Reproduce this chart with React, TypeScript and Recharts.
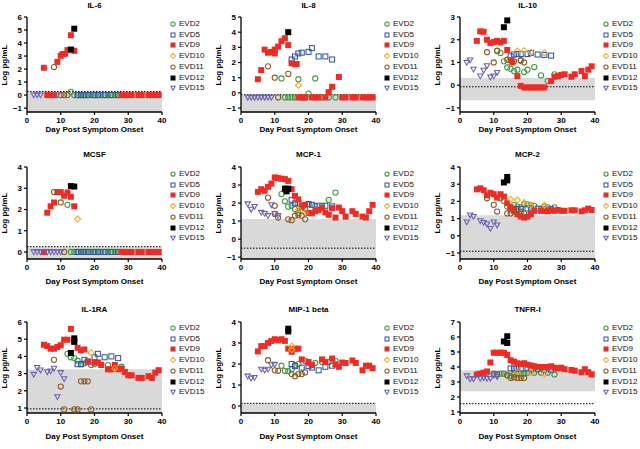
import React from 'react';
import { ScatterChart, Scatter, XAxis, YAxis, ReferenceArea, ReferenceLine } from 'recharts';

type P = [number, number];

const SERIES = ['EVD2', 'EVD5', 'EVD9', 'EVD10', 'EVD11', 'EVD12', 'EVD15'];
const X_TICKS = [0, 10, 20, 30, 40];

// ---------- IL-6 ----------
const IL6_TICKS = [-1, 0, 1, 2, 3, 4, 5, 6];
const IL6_EVD2: P[] = [[13, 0.25], [14, 0], [15, 0], [16, 0], [17, 0], [18, 0], [19, 0], [20, 0], [21, 0], [22, 0], [23, 0], [24, 0], [25, 0], [26, 0], [27, 0], [28, 0]];
const IL6_EVD5: P[] = [[15, 0], [16, 0], [17, 0], [18, 0], [20, 0], [21, 0], [23, 0], [25, 0], [27, 0]];
const IL6_EVD9: P[] = [[5, 2.1], [6, 0], [7, 0], [8, 0], [9, 2.55], [10, 3.02], [10.5, 3.15], [11.3, 3.17], [12, 3.45], [13, 4.6], [14, 3.4], [28, 0], [29, 0], [30, 0], [31, 0], [33, 0], [34, 0], [36, 0], [37, 0], [38, 0], [39, 0]];
const IL6_EVD10: P[] = [];
const IL6_EVD11: P[] = [[8, 2.15], [10, 0], [11, 0], [12, 0]];
const IL6_EVD12: P[] = [[13, 3.5], [14, 5.1]];
const IL6_EVD15: P[] = [[2, 0], [3, 0], [4, 0], [9, 0]];

// ---------- IL-8 ----------
const IL8_TICKS = [-1, 0, 1, 2, 3, 4, 5];
const IL8_EVD2: P[] = [[12, 0.95], [13, -0.3], [14, -0.3], [15, -0.3], [16, -0.3], [17, 0.9], [18, -0.3], [19, -0.3], [20, -0.05], [22, 0.95], [24, -0.3], [26, -0.3], [28, -0.3]];
const IL8_EVD5: P[] = [[15, 2.2], [16, 2.4], [17, 2.6], [18, 2.65], [20, 2.7], [21, 2.95], [23, 2.4], [25, 2.4], [27, 2.2]];
const IL8_EVD9: P[] = [[5, 0.9], [6, 1.5], [7, 2.85], [8, 2.65], [9, 2.7], [10, 2.85], [10, 2.6], [11, 3.05], [12, 3.4], [13, 3.6], [14, 3.15], [15, 1.95], [16, 1.9], [16.5, 1.9], [17, -0.3], [18, -0.3], [19, -0.3], [21, -0.3], [22, -0.3], [23, -0.3], [25, -0.3], [26, 0.05], [27, 0.4], [29, 1.05], [30, -0.3], [31, -0.3], [33, -0.3], [34, -0.3], [36, -0.3], [37, -0.3], [38, -0.3], [39, -0.3]];
const IL8_EVD10: P[] = [[17, 0.5]];
const IL8_EVD11: P[] = [[8, 1.75], [10, 1.0], [11, -0.3], [14, 1.25]];
const IL8_EVD12: P[] = [[14, 4.0]];
const IL8_EVD15: P[] = [[2, -0.3], [3, -0.3], [4, -0.3], [5, -0.3], [6, -0.3], [7, -0.3], [8, -0.3], [9, -0.3]];

// ---------- IL-10 ----------
const IL10_TICKS = [-1, 0, 1, 2, 3];
const IL10_EVD2: P[] = [[11, 1.5], [12, 1.42], [13, 1.05], [14, 0.78], [15, 0.72], [16, 0.62], [17, 0.68], [18, 1.07], [19, 0.58], [20, 0.68], [22, 0.8], [24, 0.43], [26, 0.18], [28, 0.48]];
const IL10_EVD5: P[] = [[15, 1.27], [16, 1.35], [17, 1.37], [18, 1.37], [20, 1.37], [21, 1.42], [23, 1.35], [25, 1.33], [27, 1.3]];
const IL10_EVD9: P[] = [[5, 1.95], [6, 2.37], [7, 2.35], [8, 2.0], [9, 1.85], [10, 1.9], [11, 1.95], [12, 1.88], [13, 1.95], [14, 1.55], [15, 1.1], [15.5, 1.0], [17, 0.4], [18, -0.03], [19, -0.1], [20, -0.1], [21, -0.1], [22, -0.1], [23, -0.1], [24, -0.1], [25, -0.1], [27, 0.18], [28, 0.37], [29, 0.4], [30, 0.45], [31, 0.48], [33, 0.37], [34, 0.48], [36, 0.62], [37, 0.4], [38, 0.68], [39, 0.83]];
const IL10_EVD10: P[] = [[17, 1.5], [19, 1.52], [21, 1.45], [25, 1.43]];
const IL10_EVD11: P[] = [[8, 1.45], [10, 1.0], [11, 1.52], [14, 1.12], [16, 1.05], [18, 1.1], [19, 1.0]];
const IL10_EVD12: P[] = [[13, 2.55], [14, 2.85]];
const IL10_EVD15: P[] = [[2, 1.0], [3, 1.1], [4, 0.7], [6, 0.4], [7, 0.65], [8, 0.85], [9, 0.35], [10, 0.4], [11, 0.55]];

// ---------- MCSF ----------
const MCSF_TICKS = [0, 1, 2, 3, 4];
const MCSF_EVD2: P[] = [[12, 2.22], [13, 0], [14, 0], [15, 0], [16, 0], [17, 0], [18, 0], [19, 0], [20, 0], [21, 0], [22, 0], [23, 0], [24, 0], [25, 0], [26, 0], [27, 0], [28, 0]];
const MCSF_EVD5: P[] = [[15, 0], [16, 0], [17, 0], [18, 0], [20, 0], [21, 0], [23, 0], [25, 0], [27, 0]];
const MCSF_EVD9: P[] = [[5, 0], [6, 1.85], [7, 2.15], [8, 2.33], [9, 2.82], [10, 2.82], [11, 2.65], [12, 2.8], [13, 2.6], [14, 2.15], [28, 0], [29, 0], [30, 0], [31, 0], [33, 0], [34, 0], [36, 0], [37, 0], [38, 0], [39, 0]];
const MCSF_EVD10: P[] = [[15, 1.55]];
const MCSF_EVD11: P[] = [[8, 2.82], [10, 2.33], [11, 0]];
const MCSF_EVD12: P[] = [[13, 3.1], [14, 3.08]];
const MCSF_EVD15: P[] = [[2, 0], [3, 0], [4, 0], [6, 0], [7, 0], [8, 0], [9, 0], [10, 0]];

// ---------- MCP-1 ----------
const MCP1_TICKS = [-1, 0, 1, 2, 3, 4];
const MCP1_EVD2: P[] = [[12, 2.5], [13, 2.1], [14, 1.8], [15, 1.85], [16, 1.67], [17, 1.45], [19, 1.67], [20, 1.95], [22, 1.85], [24, 1.85], [26, 2.18], [28, 2.58]];
const MCP1_EVD5: P[] = [[15, 2.18], [16, 1.98], [17, 1.98], [18, 1.85], [20, 1.95], [21, 1.9], [23, 1.85], [25, 1.85], [27, 1.82]];
const MCP1_EVD9: P[] = [[5, 2.62], [6, 2.77], [7, 2.68], [8, 2.9], [9, 3.08], [10, 3.42], [10.5, 3.4], [11, 3.38], [12, 3.35], [13, 3.33], [14, 3.23], [15, 2.77], [16, 2.4], [17, 2.2], [18, 1.77], [19, 1.9], [20, 1.45], [21, 1.43], [22, 1.55], [23, 1.62], [24, 1.72], [25, 1.48], [26, 1.35], [27, 1.72], [28, 1.2], [29, 1.75], [30, 1.55], [31, 1.25], [33, 1.55], [34, 1.4], [36, 1.25], [37, 1.2], [38, 1.55], [39, 1.9]];
const MCP1_EVD10: P[] = [[17, 1.65], [19, 1.45]];
const MCP1_EVD11: P[] = [[8, 2.3], [10, 1.85], [10, 1.4], [11, 1.2], [14, 1.1], [15, 1.05], [16, 1.3], [17, 1.33], [18, 1.3], [19, 1.1]];
const MCP1_EVD12: P[] = [[13, 2.8], [14, 2.8], [13.5, 2.65]];
const MCP1_EVD15: P[] = [[2, 1.95], [3, 1.65], [4, 1.8], [6, 1.48], [7, 1.42], [8, 1.3], [9, 1.9], [10, 1.4], [11, 1.3]];

// ---------- MCP-2 ----------
const MCP2_TICKS = [-1, 0, 1, 2, 3, 4];
const MCP2_EVD2: P[] = [[12, 2.18], [13, 2.02], [14, 1.7], [15, 1.65], [16, 1.78], [17, 1.7], [18, 1.65], [19, 1.83], [20, 1.83], [21, 1.78], [22, 1.74], [24, 1.58], [25, 1.7], [26, 1.65], [28, 1.65]];
const MCP2_EVD5: P[] = [[15, 1.55], [16, 1.5], [17, 1.55], [18, 1.55], [20, 1.58], [21, 1.58], [23, 1.58], [25, 1.55], [27, 1.55]];
const MCP2_EVD9: P[] = [[5, 2.7], [6, 2.76], [7, 2.65], [8, 2.35], [9, 2.5], [10, 2.42], [11, 2.22], [12, 2.42], [13, 2.28], [14, 1.9], [15, 1.65], [16, 1.45], [17, 1.25], [18, 1.12], [19, 1.06], [20, 1.12], [21, 1.25], [22, 1.45], [24, 1.45], [25, 1.45], [26, 1.42], [27, 1.48], [28, 1.45], [29, 1.5], [30, 1.45], [31, 1.45], [33, 1.48], [34, 1.48], [36, 1.42], [37, 1.48], [38, 1.58], [39, 1.5]];
const MCP2_EVD10: P[] = [[15, 2.12], [17, 2.08], [19, 1.93], [21, 1.78], [25, 1.78]];
const MCP2_EVD11: P[] = [[8, 2.18], [10, 1.8], [11, 1.41], [14, 1.3], [15, 1.3], [16, 1.4], [18, 1.4], [19, 1.3]];
const MCP2_EVD12: P[] = [[13, 3.1], [14, 3.22], [14, 3.42]];
const MCP2_EVD15: P[] = [[2, 0.8], [3, 1.2], [4, 1.12], [6, 0.87], [7, 0.77], [8, 0.68], [9, 0.42], [10, 0.8], [11, 0.62]];

// ---------- IL-1RA ----------
const IL1RA_TICKS = [1, 2, 3, 4, 5, 6];
const IL1RA_EVD2: P[] = [[12, 4.15], [13, 3.95], [14, 3.9], [15, 3.75], [16, 3.55], [17, 3.6], [19, 3.5], [20, 3.55], [22, 3.5], [24, 3.5], [26, 3.3], [28, 3.4]];
const IL1RA_EVD5: P[] = [[15, 3.55], [16, 3.55], [17, 3.8], [18, 3.7], [20, 3.95], [21, 4.15], [23, 3.95], [25, 4.0], [27, 3.9]];
const IL1RA_EVD9: P[] = [[5, 4.68], [6, 4.6], [7, 4.45], [8, 4.45], [9, 4.55], [10, 4.65], [11, 4.97], [12, 4.97], [13, 5.6], [14, 4.85], [15, 4.5], [16, 4.35], [17, 4.4], [18, 3.7], [20, 3.65], [21, 3.65], [22, 3.5], [24, 3.25], [25, 3.25], [26, 3.5], [27, 3.25], [28, 3.3], [29, 3.1], [30, 2.9], [31, 2.9], [33, 2.75], [34, 2.75], [36, 2.85], [37, 2.75], [38, 3.05], [39, 3.2]];
const IL1RA_EVD10: P[] = [[19, 4.2], [26, 3.3]];
const IL1RA_EVD11: P[] = [[8, 3.8], [10, 2.25], [11, 0.92], [14, 0.92], [15, 0.92], [16, 2.55], [17, 2.55], [18, 2.55], [19, 0.92]];
const IL1RA_EVD12: P[] = [[13, 4.2], [14, 4.85], [14, 5.05]];
const IL1RA_EVD15: P[] = [[2, 2.95], [3, 3.35], [4, 3.2], [6, 3.1], [7, 3.15], [8, 3.3], [9, 1.65], [10, 3.05], [11, 2.7]];

// ---------- MIP-1 beta ----------
const MIP_TICKS = [0, 1, 2, 3, 4];
const MIP_EVD2: P[] = [[12, 1.92], [13, 1.68], [14, 1.66], [15, 1.75], [16, 1.95], [17, 2.0], [19, 2.15], [20, 2.05], [22, 2.05], [24, 2.1], [26, 2.1], [28, 2.15]];
const MIP_EVD5: P[] = [[15, 2.0], [16, 1.9], [18, 1.83], [20, 1.9], [21, 1.83], [23, 1.7], [25, 1.87], [27, 1.92]];
const MIP_EVD9: P[] = [[5, 2.6], [6, 2.85], [7, 2.85], [8, 3.0], [9, 3.1], [10, 3.18], [11, 3.13], [12, 3.18], [13, 3.1], [14, 2.73], [15, 2.58], [16, 2.73], [17, 2.73], [18, 2.22], [20, 2.1], [21, 1.95], [24, 2.22], [25, 2.1], [27, 2.26], [28, 1.98], [29, 1.87], [30, 2.07], [31, 2.05], [33, 2.17], [34, 2.05], [36, 1.7], [37, 1.92], [38, 1.92], [39, 1.8]];
const MIP_EVD10: P[] = [[15, 2.85], [15, 2.68]];
const MIP_EVD11: P[] = [[8, 2.18], [10, 1.7], [11, 1.68], [15, 1.52], [16, 1.42], [17, 1.52], [18, 1.52], [19, 1.6]];
const MIP_EVD12: P[] = [[14, 3.68], [14, 3.55]];
const MIP_EVD15: P[] = [[2, 1.42], [3, 1.32], [4, 1.35], [6, 1.75], [7, 1.7], [8, 1.75], [9, 1.95], [10, 1.98]];

// ---------- TNFR-I ----------
const TNFR_TICKS = [1, 2, 3, 4, 5, 6, 7];
const TNFR_EVD2: P[] = [[8, 3.62], [11, 3.5], [12, 3.55], [13, 3.55], [14, 3.45], [15, 3.4], [16, 3.5], [17, 3.55], [18, 3.5], [19, 3.55], [20, 3.62], [22, 3.62], [24, 3.62], [26, 3.62], [28, 3.5]];
const TNFR_EVD5: P[] = [[15, 3.9], [16, 3.9], [17, 3.9], [18, 3.9], [20, 3.9], [21, 3.85], [23, 3.85], [25, 3.82], [27, 3.82]];
const TNFR_EVD9: P[] = [[5, 3.5], [6, 3.55], [7, 3.62], [8, 3.7], [9, 4.3], [10, 4.95], [11, 4.95], [12, 4.95], [13, 4.95], [14, 4.8], [15, 4.45], [16, 4.35], [17, 4.25], [18, 4.2], [19, 4.25], [20, 4.15], [21, 4.1], [22, 4.05], [23, 4.0], [24, 4.0], [25, 4.0], [26, 4.0], [27, 4.05], [28, 3.95], [29, 3.9], [30, 3.95], [31, 3.85], [33, 3.8], [34, 3.75], [36, 3.65], [37, 3.85], [38, 3.65], [39, 3.5]];
const TNFR_EVD10: P[] = [[17, 3.65], [21, 3.62], [25, 3.55]];
const TNFR_EVD11: P[] = [[10, 3.55], [11, 3.5], [14, 3.45], [15, 3.27], [16, 3.3], [17, 3.27], [18, 3.27], [19, 3.27]];
const TNFR_EVD12: P[] = [[13, 5.7], [14, 5.6], [14, 6.05]];
const TNFR_EVD15: P[] = [[2, 3.4], [3, 3.2], [4, 3.2], [6, 3.23], [7, 3.27], [8, 3.23], [9, 3.23], [10, 3.45], [11, 3.35]];

// ---------- layout ----------
const COL_X = [27, 241, 460];
const ROW_Y = [17, 167, 322];
const ROW_H = [95, 92, 91];
const PLOT_W = 135;
const TITLE_Y = [6, 155, 310];
const XLABEL_Y = [130, 282, 437];
const LEGEND_Y = [24, 174, 328];
const LEGEND_STEP = 10.7;
const FONT = '"Liberation Sans", Arial, Helvetica, sans-serif';

const COLORS: Record<string, string> = {
  EVD2: '#3d9a3d',
  EVD5: '#3356aa',
  EVD9: '#ee2b24',
  EVD10: '#f5a623',
  EVD11: '#8c5a22',
  EVD12: '#000000',
  EVD15: '#6b5fb5',
};

type PanelCfg = {
  title: string;
  col: number;
  row: number;
  domain: [number, number];
  ticks: number[];
  band: [number, number];
  lod: number;
  series: P[][];
};

const PANELS: PanelCfg[] = [
  { title: 'IL-6', col: 0, row: 0, domain: [-1.3, 6], ticks: IL6_TICKS, band: [-1.3, 0.28], lod: 0.28, series: [IL6_EVD2, IL6_EVD5, IL6_EVD9, IL6_EVD10, IL6_EVD11, IL6_EVD12, IL6_EVD15] },
  { title: 'IL-8', col: 1, row: 0, domain: [-1.26, 5], ticks: IL8_TICKS, band: [-1.26, -0.12], lod: -0.12, series: [IL8_EVD2, IL8_EVD5, IL8_EVD9, IL8_EVD10, IL8_EVD11, IL8_EVD12, IL8_EVD15] },
  { title: 'IL-10', col: 2, row: 0, domain: [-1.18, 3], ticks: IL10_TICKS, band: [-0.66, 0.32], lod: -0.07, series: [IL10_EVD2, IL10_EVD5, IL10_EVD9, IL10_EVD10, IL10_EVD11, IL10_EVD12, IL10_EVD15] },
  { title: 'MCSF', col: 0, row: 1, domain: [-0.33, 4], ticks: MCSF_TICKS, band: [-0.33, 0.25], lod: 0.25, series: [MCSF_EVD2, MCSF_EVD5, MCSF_EVD9, MCSF_EVD10, MCSF_EVD11, MCSF_EVD12, MCSF_EVD15] },
  { title: 'MCP-1', col: 1, row: 1, domain: [-1.1, 4], ticks: MCP1_TICKS, band: [-1.1, 1.12], lod: -0.5, series: [MCP1_EVD2, MCP1_EVD5, MCP1_EVD9, MCP1_EVD10, MCP1_EVD11, MCP1_EVD12, MCP1_EVD15] },
  { title: 'MCP-2', col: 2, row: 1, domain: [-1.35, 4], ticks: MCP2_TICKS, band: [-1.35, 1.2], lod: -0.9, series: [MCP2_EVD2, MCP2_EVD5, MCP2_EVD9, MCP2_EVD10, MCP2_EVD11, MCP2_EVD12, MCP2_EVD15] },
  { title: 'IL-1RA', col: 0, row: 2, domain: [0.71, 6], ticks: IL1RA_TICKS, band: [0.71, 3.25], lod: 0.95, series: [IL1RA_EVD2, IL1RA_EVD5, IL1RA_EVD9, IL1RA_EVD10, IL1RA_EVD11, IL1RA_EVD12, IL1RA_EVD15] },
  { title: 'MIP-1 beta', col: 1, row: 2, domain: [-0.33, 4], ticks: MIP_TICKS, band: [-0.33, 0.13], lod: 0.13, series: [MIP_EVD2, MIP_EVD5, MIP_EVD9, MIP_EVD10, MIP_EVD11, MIP_EVD12, MIP_EVD15] },
  { title: 'TNFR-I', col: 2, row: 2, domain: [0.93, 7], ticks: TNFR_TICKS, band: [2.38, 3.78], lod: 1.55, series: [TNFR_EVD2, TNFR_EVD5, TNFR_EVD9, TNFR_EVD10, TNFR_EVD11, TNFR_EVD12, TNFR_EVD15] },
];

function Marker({ kind, cx, cy, s }: { kind: string; cx: number; cy: number; s: number }) {
  const c = COLORS[kind];
  const h = s / 2;
  const sw = 1.05;
  if (cx == null || cy == null || isNaN(cx) || isNaN(cy)) return null;
  switch (kind) {
    case 'EVD2':
    case 'EVD11':
      return <circle cx={cx} cy={cy} r={h - 0.4} fill="none" stroke={c} strokeWidth={sw} />;
    case 'EVD5':
      return <rect x={cx - h + 0.5} y={cy - h + 0.5} width={s - 1} height={s - 1} fill="none" stroke={c} strokeWidth={sw} />;
    case 'EVD9':
    case 'EVD12':
      return <rect x={cx - h} y={cy - h} width={s} height={s} fill={c} stroke="none" />;
    case 'EVD10':
      return <polygon points={`${cx},${cy - h} ${cx + h},${cy} ${cx},${cy + h} ${cx - h},${cy}`} fill="none" stroke={c} strokeWidth={sw} />;
    case 'EVD15':
      return <polygon points={`${cx - h * 0.9},${cy - h * 0.7} ${cx + h * 0.9},${cy - h * 0.7} ${cx},${cy + h * 0.9}`} fill="none" stroke={c} strokeWidth={sw} />;
    default:
      return null;
  }
}

const fmt = (v: number) => String(v).replace('-', '\u2212');

function Panel({ cfg }: { cfg: PanelCfg }) {
  const left = COL_X[cfg.col];
  const top = ROW_Y[cfg.row];
  const plotH = ROW_H[cfg.row];
  const W = PLOT_W + 27 + 5;
  const H = plotH + 25;
  const tickStyle = { fontSize: 8, fontWeight: 700, fill: '#000', fontFamily: FONT };
  return (
    <>
      <div style={{ position: 'absolute', left: left - 27, top: top - 5 }}>
        <ScatterChart width={W} height={H} margin={{ top: 5, right: 5, bottom: 5, left: 0 }}>
          <ReferenceArea y1={cfg.band[0]} y2={cfg.band[1]} fill="#d9d9d9" fillOpacity={1} stroke="none" ifOverflow="extendDomain" />
          <ReferenceLine y={cfg.lod} stroke="#000" strokeWidth={1} strokeDasharray="1.5 1.5" />
          <XAxis type="number" dataKey="x" domain={[0, 40]} ticks={X_TICKS} interval={0} height={15}
            axisLine={{ stroke: '#000', strokeWidth: 1.3 }} tickLine={{ stroke: '#000', strokeWidth: 1.2 }}
            tickSize={3} tick={tickStyle} allowDataOverflow />
          <YAxis type="number" dataKey="y" domain={cfg.domain} ticks={cfg.ticks} interval={0} width={27}
            axisLine={{ stroke: '#000', strokeWidth: 1.3 }} tickLine={{ stroke: '#000', strokeWidth: 1.2 }}
            tickSize={3} tick={tickStyle} tickFormatter={fmt} allowDataOverflow />
          {SERIES.map((s, i) => (
            <Scatter key={s} name={s}
              data={cfg.series[i].map(([x, y]) => ({ x, y }))}
              isAnimationActive={false}
              shape={(p: any) => <Marker kind={s} cx={p.cx} cy={p.cy} s={6} />} />
          ))}
        </ScatterChart>
      </div>
      <div style={{ position: 'absolute', left: left, width: PLOT_W, top: TITLE_Y[cfg.row] - 6, textAlign: 'center', fontFamily: FONT, fontWeight: 700, fontSize: 8, lineHeight: '12px' }}>{cfg.title}</div>
      <div style={{ position: 'absolute', left: left - 20, width: PLOT_W + 40, top: XLABEL_Y[cfg.row] - 6, textAlign: 'center', fontFamily: FONT, fontWeight: 700, fontSize: 8, lineHeight: '12px' }}>Day Post Symptom Onset</div>
      <div style={{ position: 'absolute', left: left - 22 - 40, top: top + plotH / 2 - 6, width: 80, textAlign: 'center', transform: 'rotate(-90deg)', fontFamily: FONT, fontWeight: 700, fontSize: 8, lineHeight: '12px' }}>Log pg/mL</div>
      {SERIES.map((s, i) => {
        const y = LEGEND_Y[cfg.row] + i * LEGEND_STEP;
        const mx = left + PLOT_W + 11;
        return (
          <React.Fragment key={s}>
            <svg style={{ position: 'absolute', left: mx - 4, top: y - 4 }} width={8} height={8}>
              <Marker kind={s} cx={4} cy={4} s={5} />
            </svg>
            <div style={{ position: 'absolute', left: mx + 6, top: y - 6, fontFamily: FONT, fontSize: 8, lineHeight: '12px', color: '#111' }}>{s}</div>
          </React.Fragment>
        );
      })}
    </>
  );
}

export default function App() {
  return (
    <div style={{ position: 'absolute', left: 0, top: 0, width: 640, height: 449, background: '#fff', overflow: 'hidden' }}>
      {PANELS.map((p) => <Panel key={p.title} cfg={p} />)}
    </div>
  );
}
